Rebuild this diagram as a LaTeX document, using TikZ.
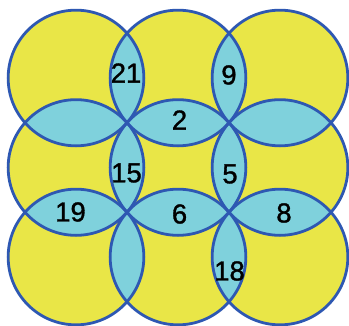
\documentclass[tikz,border=0pt]{standalone}
\usepackage{fontspec}
\setmainfont{Liberation Sans}
\newfontfamily\numfont[FakeBold=1.2]{Liberation Sans}
\definecolor{ylw}{RGB}{233,230,71}
\definecolor{lensc}{RGB}{127,209,220}
\definecolor{edgec}{RGB}{46,88,178}
\begin{document}
\begin{tikzpicture}[x=1pt,y=-1pt,
  num/.style={font=\numfont\fontsize{27.5}{27.5}\selectfont, inner sep=0pt, text=black},
  ring/.style={draw=edgec, line width=2.8pt}]
\useasboundingbox (0,0) rectangle (349,325);
\def\R{67.85pt}
\coordinate (c11) at (76,78);
\coordinate (c12) at (178,78);
\coordinate (c13) at (280,78);
\coordinate (c21) at (76,167.5);
\coordinate (c22) at (178,167.5);
\coordinate (c23) at (280,167.5);
\coordinate (c31) at (76,257);
\coordinate (c32) at (178,257);
\coordinate (c33) at (280,257);
\foreach \c in {c11,c12,c13,c21,c22,c23,c31,c32,c33}
  \fill[ylw] (\c) circle[radius=\R];
\foreach \a/\b in {c11/c12,c12/c13,c21/c22,c22/c23,c31/c32,c32/c33,
                   c11/c21,c12/c22,c13/c23,c21/c31,c22/c32,c23/c33}{
  \begin{scope}
    \clip (\a) circle[radius=\R];
    \fill[lensc] (\b) circle[radius=\R];
  \end{scope}
}
\foreach \c in {c11,c12,c13,c21,c22,c23,c31,c32,c33}
  \draw[ring] (\c) circle[radius=\R];
\node[num] (n21) at (126,73) {21};
\node[num] (n9) at (229,75) {9};
\node[num] (n2) at (179.5,120) {2};
\node[num] (n15) at (126.5,173) {15};
\node[num] (n5) at (230,174) {5};
\node[num] (n19) at (70.5,212) {19};
\node[num] (n6) at (179.5,214) {6};
\node[num] (n8) at (284,213) {8};
\node[num] (n18) at (229.5,271) {18};
\end{tikzpicture}
\end{document}
